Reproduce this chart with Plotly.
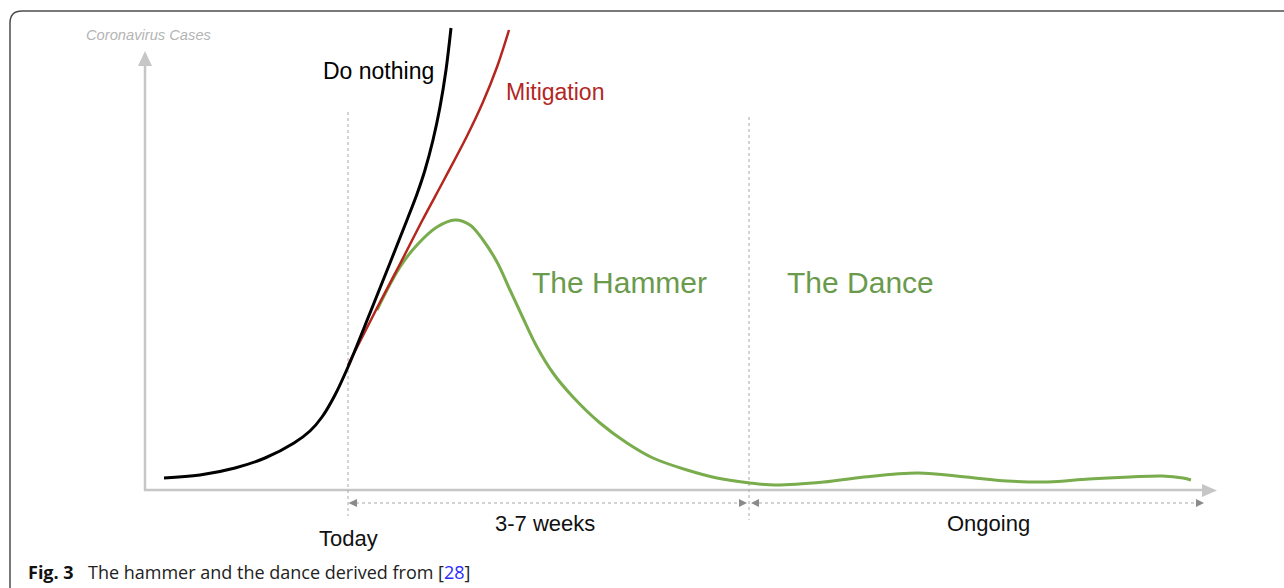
import plotly.graph_objects as go

# ---- data (chart units: x = time from y-axis origin, y = cases above baseline) ----
# origin of chart at pixel (145, 490)
OX, OY = 145, 490

do_nothing_px_x = [164, 200, 235, 265, 294, 310, 322, 335, 348, 370, 390, 407, 417, 425, 433, 440, 446, 451]
do_nothing_px_y = [478, 475, 468, 458, 443, 431, 417, 395, 367, 313, 263, 220, 194, 170, 140, 107, 70, 28]

mitigation_px_x = [348, 377, 400, 422, 445, 467, 483, 497, 509]
mitigation_px_y = [365, 308, 264, 221, 178, 136, 102, 67, 30]

hammer_dance_px_x = [377, 400, 417, 437, 455, 470, 483, 497, 510, 523, 537, 553, 573, 600, 627, 653,
                     687, 717, 750, 775, 824, 864, 918, 966, 1007, 1048, 1089, 1130, 1162, 1183, 1191]
hammer_dance_px_y = [310, 267, 245, 227, 220, 225, 240, 262, 290, 318, 347, 373, 397, 423, 443, 458,
                     470, 478, 483, 485, 482, 477, 473, 477, 481, 482, 479, 477, 476, 478, 480]

do_nothing_x = [v - OX for v in do_nothing_px_x]
do_nothing_y = [OY - v for v in do_nothing_px_y]
mitigation_x = [v - OX for v in mitigation_px_x]
mitigation_y = [OY - v for v in mitigation_px_y]
hammer_x = [v - OX for v in hammer_dance_px_x]
hammer_y = [OY - v for v in hammer_dance_px_y]

W, H = 1284, 588


def X(px):
    return px - OX


def Y(py):
    return OY - py


BLACK = "#000000"
RED = "#b3271f"
GREEN_LINE = "#78ac4c"
GREEN_TXT = "#6a9a4c"
AXIS = "#c6c6c6"
DOT = "#a8a8a8"
DIM = "#8a8a8a"

fig = go.Figure()
fig.add_trace(go.Scatter(x=hammer_x, y=hammer_y, mode="lines",
                         line=dict(color=GREEN_LINE, width=3, shape="spline", smoothing=1.0),
                         hoverinfo="skip"))
fig.add_trace(go.Scatter(x=mitigation_x, y=mitigation_y, mode="lines",
                         line=dict(color=RED, width=2.5, shape="spline", smoothing=1.0),
                         hoverinfo="skip"))
fig.add_trace(go.Scatter(x=do_nothing_x, y=do_nothing_y, mode="lines",
                         line=dict(color=BLACK, width=3, shape="spline", smoothing=1.0),
                         hoverinfo="skip"))

shapes = []


def line(x0, y0, x1, y1, color, width, dash="solid"):
    shapes.append(dict(type="line", xref="x", yref="y", x0=X(x0), y0=Y(y0), x1=X(x1), y1=Y(y1),
                       line=dict(color=color, width=width, dash=dash), layer="below"))


def tri(pts, color):
    d = "M " + " L ".join(f"{X(a)},{Y(b)}" for a, b in pts) + " Z"
    shapes.append(dict(type="path", xref="x", yref="y", path=d, fillcolor=color,
                       line=dict(color=color, width=0), layer="below"))


# frame (rounded top-left corner)
frame = f"M {X(10)},{Y(600)} L {X(10)},{Y(23)} Q {X(10)},{Y(11)} {X(22)},{Y(11)} L {X(1300)},{Y(11)}"
shapes.append(dict(type="path", xref="x", yref="y", path=frame, line=dict(color="#4d4d4d", width=1.5)))

# axes
line(145, 491, 145, 63, AXIS, 2.5)
tri([(145, 51), (138, 66), (152, 66)], AXIS)
line(144, 490, 1203, 490, AXIS, 2.5)
tri([(1217, 490.5), (1202, 484), (1202, 497)], AXIS)

# vertical dotted markers
line(348, 112, 348, 516, DOT, 1, "dot")
line(749, 117, 749, 520, DOT, 1, "dot")

# dimension arrows
line(356, 503, 740, 503, DOT, 1.2, "dot")
tri([(348.5, 503), (357, 499), (357, 507)], DIM)
tri([(747, 503), (739, 499), (739, 507)], DIM)
line(759, 503, 1196, 503, DOT, 1.2, "dot")
tri([(751, 503), (759, 499), (759, 507)], DIM)
tri([(1204, 503), (1196, 499), (1196, 507)], DIM)

FONT = "Liberation Sans, Arial, sans-serif"
ann = []


def text(s, px, py, size, color, xanchor="left", family=FONT, style="normal", weight="normal"):
    ann.append(dict(text=s, x=X(px), y=Y(py), xref="x", yref="y", xanchor=xanchor, yanchor="middle",
                    showarrow=False, font=dict(size=size, color=color, family=family, style=style,
                                                weight=weight)))


text("Coronavirus Cases", 84, 35, 14.7, "#b4b4b4", style="italic")
text("Do nothing", 321, 71, 23, BLACK)
text("Mitigation", 504, 92, 23, RED)
text("The Hammer", 530, 282, 30, GREEN_TXT)
text("The Dance", 785, 282, 30, GREEN_TXT)
text("Today", 317, 538, 22, "#111111")
text("3-7 weeks", 493, 523, 22, "#111111")
text("Ongoing", 945, 523, 22, "#111111")

CAP = "Open Sans, Noto Sans, sans-serif"
text("<b>Fig. 3</b>", 26, 572, 18, "#111111", family=CAP)
text("The hammer and the dance derived from [<span style='color:#2b2bff'>28</span>]", 86, 572, 18,
     "#222222", family=CAP)

fig.update_layout(
    width=W, height=H,
    margin=dict(l=0, r=0, t=0, b=0),
    paper_bgcolor="white", plot_bgcolor="white",
    showlegend=False,
    xaxis=dict(range=[X(0), X(W)], visible=False, fixedrange=True),
    yaxis=dict(range=[Y(H), Y(0)], visible=False, fixedrange=True),
    shapes=shapes,
    annotations=ann,
)

fig.write_html("out.html", config={"displayModeBar": False},
               post_script="document.body.style.margin='0';document.body.style.overflow='hidden';")
